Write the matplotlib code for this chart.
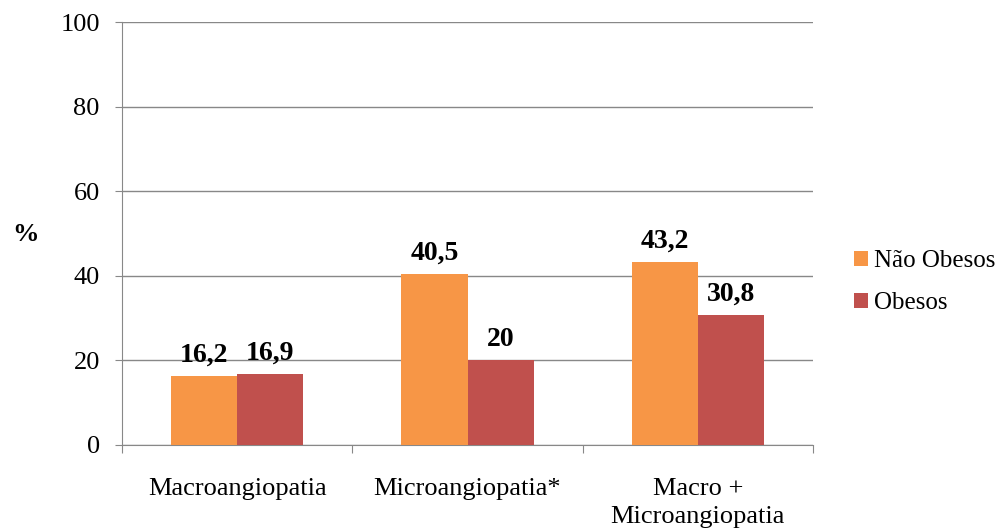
import matplotlib.pyplot as plt
import numpy as np

plt.rcParams['font.family'] = ['Liberation Serif', 'DejaVu Serif']

# Chart data
CATEGORIES = ['Macroangiopatia', 'Microangiopatia*', 'Macro +\nMicroangiopatia']
NAO_OBESOS = [16.2, 40.5, 43.2]
OBESOS = [16.9, 20.0, 30.8]
LABELS_NAO = ['16,2', '40,5', '43,2']
LABELS_OBE = ['16,9', '20', '30,8']
SERIES = ['Não Obesos', 'Obesos']

ORANGE = '#F79646'
RED = '#C0504D'
GRID = '#888888'

fig = plt.figure(figsize=(10.04, 5.29), dpi=100)
ax = fig.add_axes([0.1215, 0.1588, 0.6883, 0.7996])

x = np.arange(len(CATEGORIES))
w = 0.287
b1 = ax.bar(x - w / 2, NAO_OBESOS, w, color=ORANGE, label=SERIES[0], zorder=3)
b2 = ax.bar(x + w / 2, OBESOS, w, color=RED, label=SERIES[1], zorder=3)

for bars, labels in ((b1, LABELS_NAO), (b2, LABELS_OBE)):
    for rect, lab in zip(bars, labels):
        ax.annotate(lab, (rect.get_x() + rect.get_width() / 2, rect.get_height()),
                    xytext=(0, 6), textcoords='offset points',
                    ha='center', va='bottom', fontsize=20, fontweight='bold')

ax.set_xlim(-0.5, 2.5)
ax.set_ylim(0, 100)
ax.set_yticks(range(0, 101, 20))
ax.tick_params(axis='y', labelsize=19, length=5, color=GRID, pad=11)
ax.yaxis.grid(True, color=GRID, linewidth=1, zorder=0)

ax.set_xticks([-0.5, 0.5, 1.5, 2.5])
ax.set_xticklabels([])
ax.set_xticks(x, minor=True)
ax.set_xticklabels(CATEGORIES, minor=True, fontsize=19, linespacing=1.35)
ax.tick_params(axis='x', which='major', length=6, color=GRID, direction='out')
ax.tick_params(axis='x', which='minor', length=0, pad=24)

for side in ('top', 'right'):
    ax.spines[side].set_visible(False)
for side in ('left', 'bottom'):
    ax.spines[side].set_color(GRID)

fig.text(0.012, 0.556, '%', fontsize=19, fontweight='bold', ha='left', va='center')

ax.legend(loc='center left', bbox_to_anchor=(1.045, 0.385), frameon=False,
          fontsize=18, handlelength=0.55, handleheight=0.55, handletextpad=0.25,
          labelspacing=0.8, borderaxespad=0)

fig.savefig('out.png', dpi=100)
